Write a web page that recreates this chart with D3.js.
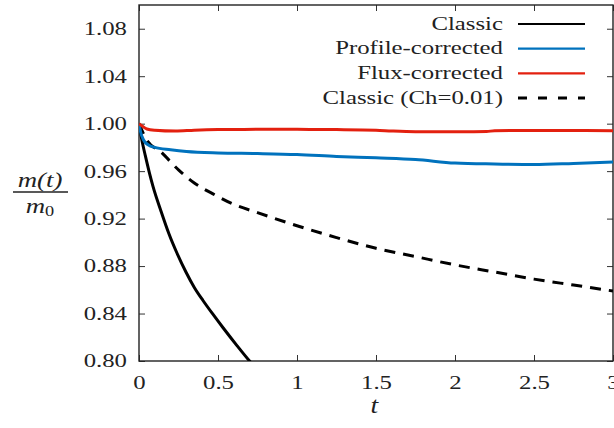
<!DOCTYPE html>
<html>
<head>
<meta charset="utf-8">
<script src="https://cdn.jsdelivr.net/npm/d3@7"></script>
<style>
  html, body { margin: 0; padding: 0; background: #fff; }
  svg { display: block; }
</style>
</head>
<body>
<div id="chart"></div>
<script>
// ---- data ----
const xTicks = [0, 0.5, 1, 1.5, 2, 2.5, 3];
const yTicks = [0.80, 0.84, 0.88, 0.92, 0.96, 1.00, 1.04, 1.08];

const classicT = [0, 0.01, 0.02, 0.04, 0.065, 0.089, 0.14, 0.19, 0.24, 0.297, 0.35, 0.405, 0.47, 0.532, 0.62, 0.70, 0.72];
const classicM = [1.0, 0.992, 0.985, 0.973, 0.959, 0.947, 0.926, 0.907, 0.891, 0.875, 0.862, 0.851, 0.839, 0.828, 0.813, 0.800, 0.797];

const profileT = [0, 0.01, 0.03, 0.06, 0.1, 0.2, 0.3, 0.5, 0.75, 1.0, 1.25, 1.5, 1.75, 2.0, 2.25, 2.5, 2.75, 3.0];
const profileM = [1.0, 0.993, 0.986, 0.982, 0.980, 0.978, 0.9765, 0.9753, 0.9748, 0.9740, 0.9724, 0.9712, 0.9698, 0.9668, 0.9660, 0.9656, 0.9665, 0.9676];

const fluxT = [0, 0.02, 0.05, 0.1, 0.23, 0.35, 0.5, 0.75, 1.0, 1.25, 1.5, 1.6, 1.75, 2.0, 2.2, 2.25, 2.5, 2.75, 3.0];
const fluxM = [1.0, 0.998, 0.9955, 0.9945, 0.9938, 0.9945, 0.9950, 0.9952, 0.9952, 0.9950, 0.9945, 0.9938, 0.9932, 0.9932, 0.9933, 0.9941, 0.9942, 0.9942, 0.9940];

const chT = [0, 0.05, 0.14, 0.25, 0.35, 0.48, 0.6, 0.75, 1.0, 1.25, 1.5, 1.75, 2.0, 2.25, 2.5, 2.75, 3.0];
const chM = [1.0, 0.986, 0.976, 0.961, 0.950, 0.940, 0.932, 0.925, 0.914, 0.904, 0.895, 0.888, 0.881, 0.875, 0.869, 0.864, 0.859];

const seriesNames = ["Classic", "Profile-corrected", "Flux-corrected", "Classic (Ch=0.01)"];
const seriesColors = ["#000000", "#0072bd", "#e3200f", "#000000"];
const seriesDash = [null, null, null, "11,8"];

// ---- layout ----
const W = 614, H = 428;
const L = 139, R = 613, T = 5, B = 361;
const STRETCH = 1.34;
const FONT = '"Liberation Serif", "DejaVu Serif", "Noto Serif", "Times New Roman", Times, serif';

const svg = d3.select("#chart").append("svg").attr("width", W).attr("height", H)
  .attr("font-family", FONT);

const x = d3.scaleLinear().domain([0, 3]).range([L, R]);
const y = d3.scaleLinear().domain([0.8, 1.1]).range([B, T]);

svg.append("defs").append("clipPath").attr("id", "clip")
  .append("rect").attr("x", L).attr("y", T).attr("width", R - L).attr("height", B - T);

function stretch(sel, k) {
  sel.each(function () {
    const t = d3.select(this);
    const tx = +t.attr("x") || 0, ty = +t.attr("y") || 0;
    t.attr("x", 0).attr("y", 0).attr("transform", `translate(${tx},${ty}) scale(${k},1)`);
  });
}
function font(sel, size) {
  sel.style("font-family", FONT).style("font-size", size + "px").attr("fill", "#222");
}

// axes with inward ticks
const tickLen = 6;
const fmtY = d3.format(".2f");
const fmtX = d => d3.format("")(d);

const gx = svg.append("g").attr("transform", `translate(0,${B})`)
  .call(d3.axisBottom(x).tickValues(xTicks).tickSize(-tickLen).tickPadding(15).tickFormat(fmtX));
const gxTop = svg.append("g").attr("transform", `translate(0,${T})`)
  .call(d3.axisTop(x).tickValues(xTicks).tickSize(-tickLen).tickFormat(""));
const gy = svg.append("g").attr("transform", `translate(${L},0)`)
  .call(d3.axisLeft(y).tickValues(yTicks).tickSize(-tickLen).tickPadding(12).tickFormat(fmtY));
const gyR = svg.append("g").attr("transform", `translate(${R},0)`)
  .call(d3.axisRight(y).tickValues(yTicks).tickSize(-tickLen).tickFormat(""));

[gx, gxTop, gy, gyR].forEach(g => {
  g.attr("font-family", FONT);
  g.select(".domain").remove();
  g.selectAll(".tick line").attr("stroke", "#333").attr("stroke-width", 1);
  font(g.selectAll(".tick text"), 18.5);
});
gx.selectAll(".tick text").attr("dy", "0.71em");
stretch(gx.selectAll(".tick text"), STRETCH);
stretch(gy.selectAll(".tick text"), STRETCH);

// frame
svg.append("rect").attr("x", L).attr("y", T).attr("width", R - L).attr("height", B - T)
  .attr("fill", "none").attr("stroke", "#222").attr("stroke-width", 1.4);

// lines
const line = d3.line().x(d => x(d[0])).y(d => y(d[1])).curve(d3.curveMonotoneX);
const allT = [classicT, profileT, fluxT, chT];
const allM = [classicM, profileM, fluxM, chM];
const plotG = svg.append("g").attr("clip-path", "url(#clip)");
[3, 0, 1, 2].forEach(i => {
  const pts = allT[i].map((t, k) => [t, allM[i][k]]);
  plotG.append("path").datum(pts)
    .attr("d", line)
    .attr("fill", "none")
    .attr("stroke", seriesColors[i])
    .attr("stroke-width", 3)
    .attr("stroke-linejoin", "round")
    .attr("stroke-dasharray", seriesDash[i]);
});

// legend
const legTextX = 503, legLineX1 = 518, legLineX2 = 585;
const legY0 = 24, legDY = 24.7;
seriesNames.forEach((name, i) => {
  const yy = legY0 + i * legDY;
  const t = svg.append("text").attr("x", legTextX).attr("y", yy + 5.5)
    .attr("text-anchor", "end").text(name);
  font(t, 18.5);
  stretch(t, STRETCH);
  svg.append("line").attr("x1", legLineX1).attr("x2", legLineX2).attr("y1", yy).attr("y2", yy)
    .attr("stroke", seriesColors[i]).attr("stroke-width", i === 3 ? 3 : 2.2)
    .attr("stroke-dasharray", i === 3 ? "9,11" : null);
});

// y label: m(t) / m0
const yl = svg.append("g");
const num = yl.append("text").attr("x", 40).attr("y", 187).attr("text-anchor", "middle").text("m(t)");
font(num, 22);
num.style("font-style", "italic");
stretch(num, 1.22);
yl.append("line").attr("x1", 13).attr("x2", 68).attr("y1", 192).attr("y2", 192)
  .attr("stroke", "#222").attr("stroke-width", 1.5);
const den = yl.append("text").attr("x", 40).attr("y", 213).attr("text-anchor", "middle");
font(den, 22);
den.append("tspan").style("font-style", "italic").text("m");
den.append("tspan").attr("dy", 3).style("font-size", "15px").text("0");
stretch(den, 1.22);

// x label
const xl = svg.append("text").attr("x", x(1.49)).attr("y", 413).attr("text-anchor", "middle").text("t");
font(xl, 23);
xl.style("font-style", "italic");
stretch(xl, 1.2);
</script>
</body>
</html>
